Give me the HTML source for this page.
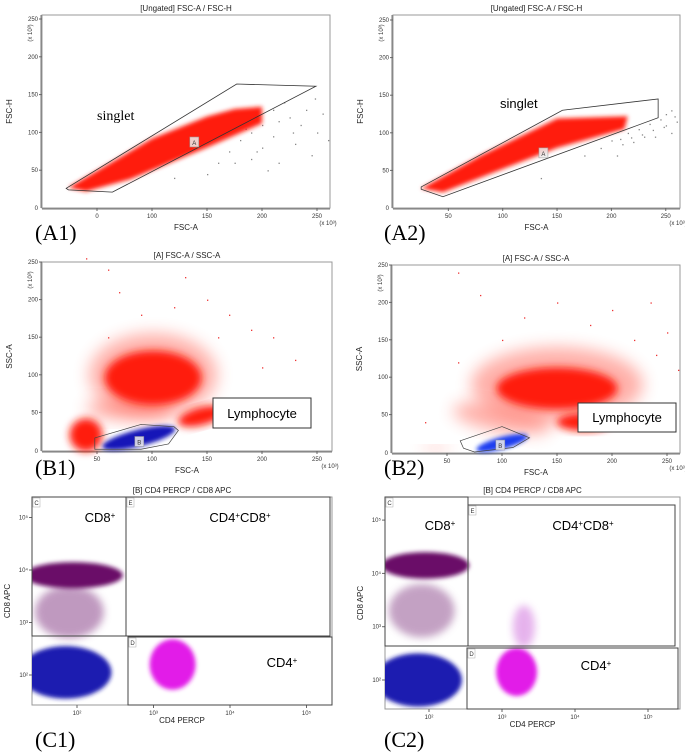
<!DOCTYPE html>
<html><head><meta charset="utf-8"><style>
html,body{margin:0;padding:0;background:#fff;}
svg{display:block;font-family:"Liberation Sans",sans-serif;}
.tk{font-size:6px;fill:#333;}
.ttl{font-size:8px;fill:#222;}
.ax{font-size:8px;fill:#222;}
.pl{font-family:"Liberation Serif",serif;font-size:22px;fill:#000;}
</style></head><body>
<svg id="fig" width="685" height="754" viewBox="0 0 685 754" xmlns="http://www.w3.org/2000/svg">
<defs>
<filter id="bl" x="-30%" y="-30%" width="160%" height="160%"><feGaussianBlur stdDeviation="2.2"/></filter>
<filter id="bl2" x="-30%" y="-30%" width="160%" height="160%"><feGaussianBlur stdDeviation="4"/></filter>
<filter id="bl3" x="-40%" y="-40%" width="180%" height="180%"><feGaussianBlur stdDeviation="8"/></filter>
</defs>
</svg>
<script>
// ---- data ----
const linTicks = [50, 100, 150, 200, 250];
const linTickLabels = ['50', '100', '150', '200', '250'];
const a1TickLabels = ['0', '100', '150', '200', '250'];
const a1TickVals = [50, 100, 150, 200, 250];
const logTicks = [2, 3, 4, 5];
// A panels: singlet gate polygons (FSC-A, FSC-H in x10^3)
const gateA1 = [[22,26],[177,164],[249,161],[64,21],[24,24]];
const gateA2 = [[25,28],[155,130],[243,145],[243,120],[45,15],[25,25]];
const bandA1 = [[24,27],[100,92],[150,121],[175,131],[200,134],[200,112],[150,80],[80,38],[40,22]];
const bandA2 = [[25,26],[80,70],[150,119],[215,122],[212,105],[150,80],[45,21]];
const greyA1 = [[160,60],[170,75],[180,90],[190,100],[200,110],[210,95],[225,120],[240,130],[250,100],[230,85],[195,75],[175,60],[215,60],[245,70],[205,50],[150,45],[120,40],[185,105],[220,140],[235,110],[255,125],[260,90],[200,80],[190,65],[215,115],[228,100],[248,145],[210,130]];
const greyA2 = [[200,90],[215,100],[225,105],[235,112],[245,118],[250,110],[255,100],[260,115],[240,95],[230,95],[220,88],[210,85],[190,80],[250,125],[255,130],[175,70],[205,70],[135,40],[228,98],[238,104],[248,108],[218,94],[208,92],[258,122]];
// B panels: clusters [cx, cy, rx, ry, rot]
const redB1 = [[101,96,44,36,0],[40,20,15,22,0],[145,45,22,12,-15]];
const haloB1 = [[101,100,58,55,0],[80,55,40,15,0]];
const blueB1 = [[88,16,34,11,-14]];
const gateB1 = [[48,16],[90,34],[120,31],[124,26],[115,8],[90,1],[48,1]];
const redB2 = [[150,85,55,28,0],[175,40,25,12,0]];
const haloB2 = [[150,90,78,50,0],[100,45,45,18,10],[40,5,14,3,0]];
const blueB2 = [[100,12,24,8,-15]];
const gateB2 = [[62,15],[100,34],[125,19],[110,6],[75,0],[65,5]];
const sparseB1 = [[40,255],[60,240],[70,210],[130,230],[150,200],[170,180],[190,160],[210,150],[230,120],[60,150],[120,190],[90,180],[200,110],[160,150]];
const sparseB2 = [[60,240],[80,210],[120,180],[150,200],[180,170],[200,190],[220,150],[240,130],[250,160],[100,150],[60,120],[30,40],[235,200],[260,110]];
// C panels: clusters in log10 units [cx, cy, rx, ry, color]
const clC1 = [[1.95,3.9,0.65,0.25,'#6a1068'],[1.85,2.05,0.6,0.5,'#1c1fb0'],[3.25,2.2,0.3,0.48,'#e21ee8']];
const clC2 = [[1.95,4.15,0.6,0.25,'#6a1068'],[1.85,2.0,0.6,0.5,'#1c1fb0'],[3.2,2.15,0.28,0.45,'#e21ee8']];
const tailC1 = [[1.9,3.2,0.45,0.5,'#b080b0']];
const tailC2 = [[1.9,3.3,0.45,0.5,'#b58ab5'],[3.3,3.0,0.15,0.4,'#e0a0e8']];

const NS = 'http://www.w3.org/2000/svg';
const svg = document.getElementById('fig');
function mk(tag, attrs, parent){
  const e = document.createElementNS(NS, tag);
  for (const k in attrs) e.setAttribute(k, attrs[k]);
  (parent||svg).appendChild(e); return e;
}
function txt(x,y,s,cls,parent,anchor){
  const t = mk('text',{x:x,y:y,class:cls,'text-anchor':anchor||'middle'},parent);
  t.textContent = s; return t;
}
function linAxis(d0,p0,scale){ return v => p0 + (v-d0)*scale; }
const sup = ['','','²','³','⁴','⁵'];

function panel(name, box, sx, sy, title, xlab, ylab, isLog, xTickVals, xTickLabs){
  const g = mk('g',{});
  
  
  const fr = mk('rect',{x:box[0],y:box[1],width:box[2]-box[0],height:box[3]-box[1],fill:'#fff',stroke:'#999','stroke-width':1},g);
  
  
  const tt = txt((box[0]+box[2])/2, box[1]-4, title, 'ttl', g);
  
  
  const xt = txt((box[0]+box[2])/2, box[3]+ (isLog?18:22), xlab, 'ax', g);
  
  
  const yt = txt(0,0,ylab,'ax',g);
  yt.setAttribute('transform','translate('+(box[0]-(isLog?22:30))+','+((box[1]+box[3])/2)+') rotate(-90)');
  
  
  if (isLog){
    logTicks.forEach(t=>{
      const x = sx(t), y = sy(t);
      mk('line',{x1:x,y1:box[3],x2:x,y2:box[3]+3,stroke:'#666'},g);
      const a = txt(x, box[3]+10, '10'+sup[t], 'tk', g);
      
      
      mk('line',{x1:box[0]-3,y1:y,x2:box[0],y2:y,stroke:'#666'},g);
      const b = txt(box[0]-4, y+2, '10'+sup[t], 'tk', g, 'end');
      
      
    });
  } else {
    mk('line',{x1:box[0],y1:box[3]+1,x2:box[2],y2:box[3]+1,stroke:'#777'},g);
    mk('line',{x1:box[0]-1,y1:box[1],x2:box[0]-1,y2:box[3],stroke:'#777'},g);
    xTickVals.forEach((t,i)=>{
      const x = sx(t);
      mk('line',{x1:x,y1:box[3],x2:x,y2:box[3]+3,stroke:'#666'},g);
      const a = txt(x, box[3]+10, xTickLabs[i], 'tk', g);
      
      
    });
    linTicks.forEach((t,i)=>{
      const y = sy(t);
      mk('line',{x1:box[0]-3,y1:y,x2:box[0],y2:y,stroke:'#666'},g);
      const b = txt(box[0]-4, y+2, linTickLabels[i], 'tk', g, 'end');
      
      
    });
    txt(box[2]-2, box[3]+17, '(x 10³)', 'tk', g);
    const u = txt(0,0,'(x 10³)','tk',g);
    u.setAttribute('transform','translate('+(box[0]-10)+','+(box[1]+18)+') rotate(-90)');
    txt(box[0]-4, box[3]+2, '0', 'tk', g, 'end');
  }
  return g;
}
function poly(pts, sx, sy, attrs, parent){
  return mk('polygon', Object.assign({points: pts.map(p=>sx(p[0])+','+sy(p[1])).join(' ')}, attrs), parent);
}
function dots(pts, sx, sy, col, parent){
  pts.forEach(p=>{
    const c = mk('rect',{x:sx(p[0]),y:sy(p[1]),width:1.3,height:1.3,fill:col},parent);
    
    
  });
}
function clusters(list, sx, sy, col, parent, filt, op){
  list.forEach(c=>{
    const cx = sx(c[0]), cy = sy(c[1]);
    const rx = Math.abs(sx(c[0]+c[2])-cx), ry = Math.abs(sy(c[1]+c[3])-cy);
    const e = mk('ellipse',{cx:cx,cy:cy,rx:rx,ry:ry,fill:(typeof c[4]==='string'?c[4]:col),filter:'url(#'+(filt||'bl')+')',opacity:(op||1),transform:'rotate('+(typeof c[4]==='number'?c[4]:0)+' '+cx+' '+cy+')'},parent);
    
    
  });
}
function gateLabel(x,y,s,parent){
  mk('rect',{x:x-4,y:y-6,width:9,height:10,fill:'#eee',stroke:'#999','stroke-width':0.6,opacity:0.85},parent);
  txt(x+0.5,y+2,s,'tk',parent);
}

// ---- A1 ----
(function(){
  const box=[42,15,330,208];
  const sx=linAxis(0,42,1.1), sy=linAxis(0,208,-0.756);
  const g=panel('plot-a1',box,sx,sy,'[Ungated] FSC-A / FSC-H','FSC-A','FSC-H',false,a1TickVals,a1TickLabels);
  dots(greyA1,sx,sy,'#888',g);
  const b=poly(bandA1,sx,sy,{fill:'#ff1a10',filter:'url(#bl)'},g);
   
  const gt=poly(gateA1,sx,sy,{fill:'none',stroke:'#333','stroke-width':0.8},g);
   
  gateLabel(sx(138),sy(86),'A',g);
  const s=mk('text',{x:97,y:120,'font-family':'Liberation Serif,serif','font-size':14},g); s.textContent='singlet';
   
})();
// ---- A2 ----
(function(){
  const box=[393,15,680,208];
  const sx=linAxis(0,394,1.087), sy=linAxis(0,208,-0.752);
  const g=panel('plot-a2',box,sx,sy,'[Ungated] FSC-A / FSC-H','FSC-A','FSC-H',false,linTicks,linTickLabels);
  dots(greyA2,sx,sy,'#888',g);
  const b=poly(bandA2,sx,sy,{fill:'#ff1a10',filter:'url(#bl)'},g);
   
  const gt=poly(gateA2,sx,sy,{fill:'none',stroke:'#333','stroke-width':0.8},g);
   
  gateLabel(sx(137),sy(72),'A',g);
  const s=mk('text',{x:500,y:108,'font-family':'Liberation Sans,sans-serif','font-size':13},g); s.textContent='singlet';
   
})();
// ---- B1 ----
(function(){
  const box=[42,262,332,451];
  const sx=linAxis(0,42,1.1), sy=linAxis(0,450,-0.752);
  const g=panel('plot-b1',box,sx,sy,'[A] FSC-A / SSC-A','FSC-A','SSC-A',false,linTicks,linTickLabels);
  dots(sparseB1,sx,sy,'#e33',g);
  clusters(haloB1,sx,sy,'#ff5040',g,'bl3',0.45);
  clusters(redB1,sx,sy,'#ff1a10',g,'bl2');
  clusters(blueB1,sx,sy,'#1418b8',g);
  const gt=poly(gateB1,sx,sy,{fill:'none',stroke:'#444','stroke-width':0.7},g);
   
  gateLabel(sx(88),sy(10),'B',g);
  mk('rect',{x:213,y:398,width:98,height:30,fill:'#fff',stroke:'#333'},g);
  const t=mk('text',{x:262,y:418,'text-anchor':'middle','font-size':13},g); t.textContent='Lymphocyte';
   
})();
// ---- B2 ----
(function(){
  const box=[392,265,680,453];
  const sx=linAxis(0,392,1.1), sy=linAxis(0,452,-0.748);
  const g=panel('plot-b2',box,sx,sy,'[A] FSC-A / SSC-A','FSC-A','SSC-A',false,linTicks,linTickLabels);
  dots(sparseB2,sx,sy,'#e33',g);
  clusters(haloB2,sx,sy,'#ff5040',g,'bl3',0.45);
  clusters(redB2,sx,sy,'#ff1a10',g,'bl2');
  clusters(blueB2,sx,sy,'#1a3cf0',g);
  const gt=poly(gateB2,sx,sy,{fill:'none',stroke:'#444','stroke-width':0.7},g);
   
  gateLabel(sx(98),sy(8),'B',g);
  mk('rect',{x:578,y:403,width:98,height:29,fill:'#fff',stroke:'#333'},g);
  const t=mk('text',{x:627,y:422,'text-anchor':'middle','font-size':13},g); t.textContent='Lymphocyte';
   
})();
// ---- C panels ----
function cPanel(name, box, sx, sy, cl, tail, gates, labels){
  const g=panel(name,box,sx,sy,'[B] CD4 PERCP / CD8 APC','CD4 PERCP','CD8 APC',true);
  const clip = mk('clipPath',{id:name+'-clip'},g);
  mk('rect',{x:box[0],y:box[1],width:box[2]-box[0],height:box[3]-box[1]},clip);
  const inner = mk('g',{'clip-path':'url(#'+name+'-clip)'},g);
  clusters(tail,sx,sy,'#b080b0',inner,'bl2',0.8);
  clusters(cl,sx,sy,'#000',inner);
  gates.forEach(q=>{
    const r=mk('rect',{x:q[1],y:q[2],width:q[3]-q[1],height:q[4]-q[2],fill:'none',stroke:'#444','stroke-width':1},g);
     
    mk('rect',{x:q[1]+1,y:q[2]+1,width:7,height:9,fill:'#fff',stroke:'#aaa','stroke-width':0.5},g);
    txt(q[1]+4.5,q[2]+8,q[0],'tk',g);
  });
  labels.forEach(l=>{
    const t=mk('text',{x:l[0],y:l[1],'text-anchor':'middle','font-size':13},g);
    t.innerHTML=l[2];
     
  });
}
cPanel('plot-c1',[32,497,332,705],linAxis(2,77,76.5),linAxis(2,675,-52.5),clC1,tailC1,
  [['C',32,497,126,636],['E',126,497,330,636],['D',128,637,332,705]],
  [[100,522,'CD8<tspan baseline-shift="super" font-size="8">+</tspan>'],[240,522,'CD4<tspan baseline-shift="super" font-size="8">+</tspan>CD8<tspan baseline-shift="super" font-size="8">+</tspan>'],[282,667,'CD4<tspan baseline-shift="super" font-size="8">+</tspan>']]);
cPanel('plot-c2',[385,497,680,709],linAxis(2,429,73),linAxis(2,680,-53.3),clC2,tailC2,
  [['C',385,497,468,646],['E',468,505,675,646],['D',467,648,678,709]],
  [[440,530,'CD8<tspan baseline-shift="super" font-size="8">+</tspan>'],[583,530,'CD4<tspan baseline-shift="super" font-size="8">+</tspan>CD8<tspan baseline-shift="super" font-size="8">+</tspan>'],[596,670,'CD4<tspan baseline-shift="super" font-size="8">+</tspan>']]);
// panel labels
[['(A1)',35,240],['(A2)',384,240],['(B1)',35,475],['(B2)',384,475],['(C1)',35,747],['(C2)',384,747]].forEach(p=>{
  const t=txt(p[1],p[2],p[0],'pl',svg,'start');
  
  
});
</script>
</body></html>
